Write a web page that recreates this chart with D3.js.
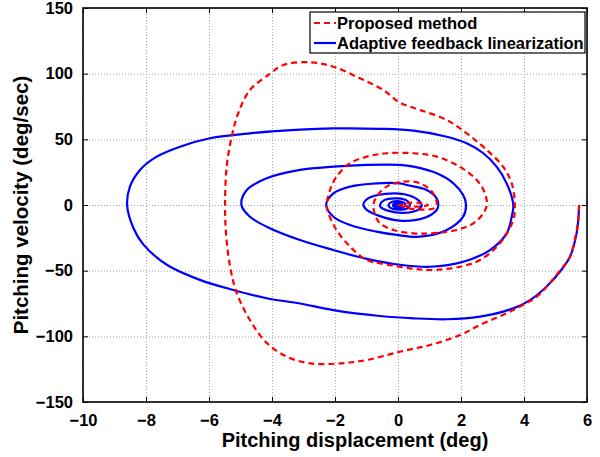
<!DOCTYPE html>
<html>
<head>
<meta charset="utf-8">
<script src="https://cdn.jsdelivr.net/npm/d3@7"></script>
<style>
  body { margin: 0; background: #fff; }
  text { font-family: "Liberation Sans", Arial, Helvetica, sans-serif; font-weight: bold; }
</style>
</head>
<body>
<div id="container"></div>
<script>
// phase-plane trajectories, [displacement (deg), velocity (deg/sec)]
var proposed = [
  [5.75,0],[5.72,-12],[5.65,-22],[5.46,-39.4],[5.14,-50],[4.8,-60],[4.4,-69.8],[3.66,-80],
  [2.6,-91.4],[1.97,-99],[1.02,-106.6],[0.06,-111.7],[-0.99,-118],[-1.84,-120.6],[-2.79,-120.6],
  [-3.53,-115.5],[-4.17,-105],[-4.7,-87.6],[-5.12,-67],[-5.33,-47],[-5.46,-21.6],[-5.49,0],
  [-5.44,29],[-5.28,52],[-5.07,70],[-4.7,87.6],[-4.06,100],[-3.64,106.6],[-2.79,108.7],
  [-2.05,105.3],[-1.21,96.5],[-0.47,87.6],[0.06,78],[0.7,72.4],[1.55,64.7],[2.18,54.6],
  [2.82,41.9],[3.34,29],[3.61,16.5],[3.71,0],
  [3.66,-11.4],[3.24,-29],[2.6,-41.9],[1.97,-47],[1.02,-49.5],[0.38,-48.2],[-0.57,-44.4],
  [-0.99,-41.9],[-1.52,-31.8],[-1.95,-19],[-2.21,-6.3],[-2.26,0],[-2.16,11.4],[-1.95,21.6],
  [-1.52,31.8],[-0.99,36.8],[-0.36,39.4],[0.49,39.4],[1.23,36.8],[1.97,29],[2.5,19],[2.76,8.9],[2.82,0],
  [2.71,-6.3],[2.39,-14],[1.86,-19],[1.02,-21.6],[0.49,-21.6],[-0.15,-19],[-0.57,-14],[-0.72,-8],
  [-0.78,0],[-0.68,6.3],[-0.36,14],[0.17,17.8],[0.7,16.5],[1.12,8.9],[1.23,0],
  [1.15,-2.5],[0.8,-3.5],[0.45,-3],[0.2,-1.8],[0.1,0],[0.3,1.5],[0.7,1.5],[0.95,0],
  [0.7,-1.2],[0.35,-1],[0.1,-0.3],[0,0]
];

var adaptive = [
  [5.75,0],[5.72,-12],[5.67,-21.6],[5.46,-39.4],[5.14,-50.8],[4.72,-62],[4.19,-72.4],[3.66,-78.7],
  [2.6,-85],[1.55,-87],[0.49,-86.3],[-0.57,-84.5],[-2.05,-80],[-3.11,-75],[-4.17,-71],[-5.23,-64.7],
  [-6.29,-57],[-7.34,-45.5],[-8.08,-30.2],[-8.4,-17.5],[-8.6,0],
  [-8.51,13.9],[-8.19,26.7],[-7.66,36.8],[-6.92,44.4],[-5.97,50.8],[-4.7,54.6],[-3.11,57.4],
  [-2.05,58.3],[-0.57,58],[0.49,56.6],[1.55,52],[2.18,47],[2.71,39.4],[3.13,29.2],[3.45,16.5],[3.66,0],
  [3.6,-10],[3.45,-21.6],[2.92,-34.3],[2.07,-43.2],[1.02,-47],[0.06,-45.5],[-0.99,-41],[-2.05,-34.3],
  [-3.11,-26.7],[-4.17,-16.5],[-4.7,-8.9],[-4.97,0],
  [-4.8,11.4],[-4.17,20.3],[-3.11,26.7],[-2.05,29.2],[-0.99,30.5],[0.06,30.5],[0.49,29.2],
  [1.23,24.1],[1.76,16.5],[2.07,7.6],[2.16,0],
  [2.07,-8.9],[1.55,-19],[0.7,-24.1],[-0.04,-22.8],[-0.68,-20.3],[-1.52,-15.2],[-2.05,-8.9],[-2.28,0],
  [-2.05,8.9],[-1.52,14],[-0.68,16.5],[0.06,16.5],[0.28,15.2],[0.91,11.4],[1.23,5],[1.28,0],
  [1.23,-3.8],[0.8,-10.1],[0.06,-11.9],[-0.57,-8.5],[-1.0,-3.5],[-1.1,0],
  [-0.95,5],[-0.4,8.5],[0.2,8.2],[0.6,4.5],[0.75,0],
  [0.65,-3.5],[0.2,-6],[-0.3,-4.5],[-0.55,-1.5],[-0.57,0],
  [-0.45,3.5],[0,5],[0.3,3],[0.38,0],
  [0.3,-2.5],[0,-3.5],[-0.25,-2],[-0.3,0],[-0.2,2.2],[0.05,2.8],[0.2,1.5],[0.22,0],
  [0.15,-1.8],[-0.05,-2],[-0.15,-0.8],[-0.15,0.5],[0,1.5],[0.12,0.8],[0.12,0],
  [0.05,-1],[-0.05,-0.8],[-0.08,0.3],[0,0.8],[0.05,0]
];

var xTicks = [-10,-8,-6,-4,-2,0,2,4,6];
var yTicks = [-150,-100,-50,0,50,100,150];
var seriesNames = ["Proposed method","Adaptive feedback linearization"];

var svg = d3.select("div#container").append("svg").attr("width",600).attr("height",457),
    margin = {top: 8, left: 83, right: 13, bottom: 55},
    width = 600 - margin.left - margin.right,
    height = 457 - margin.top - margin.bottom;

var g = svg.append("g").attr("transform","translate("+ margin.left +","+ margin.top +")");

var xScale = d3.scaleLinear().domain([-10,6]).range([0,width]);
var yScale = d3.scaleLinear().domain([-150,150]).range([height,0]);

// dotted grid
g.append("g").attr("class","grid")
  .attr("transform","translate(0,"+ height +")")
  .call(d3.axisBottom(xScale).tickValues(xTicks).tickSize(-height).tickFormat(""));
g.append("g").attr("class","grid")
  .call(d3.axisLeft(yScale).tickValues(yTicks).tickSize(-width).tickFormat(""));
g.selectAll(".grid path").remove();
g.selectAll(".grid line").attr("stroke","#a8a8a8").attr("stroke-width",1).attr("stroke-dasharray","1,2");

// trajectories
var line = d3.line()
  .x(function(d) { return xScale(d[0]); })
  .y(function(d) { return yScale(d[1]); })
  .curve(d3.curveCatmullRom.alpha(0.5));

g.append("path").datum(adaptive)
  .attr("d", line).attr("fill","none").attr("stroke","#0000ff").attr("stroke-width",2.2);
g.append("path").datum(proposed)
  .attr("d", line).attr("fill","none").attr("stroke","#ff0000").attr("stroke-width",2.2)
  .attr("stroke-dasharray","6,4");

// axes with inward ticks on all four sides
var xAxis = d3.axisBottom(xScale).tickValues(xTicks).tickSizeInner(-5).tickSizeOuter(0).tickPadding(12)
  .tickFormat(d3.format("d"));
var yAxis = d3.axisLeft(yScale).tickValues(yTicks).tickSizeInner(-5).tickSizeOuter(0).tickPadding(10)
  .tickFormat(d3.format("d"));

g.append("g").attr("class","axis").attr("transform","translate(0,"+ height +")").call(xAxis);
g.append("g").attr("class","axis").call(yAxis);
g.append("g").attr("class","axis").call(d3.axisTop(xScale).tickValues(xTicks).tickSizeInner(-5).tickSizeOuter(0).tickFormat(""));
g.append("g").attr("class","axis").attr("transform","translate("+ width +",0)")
  .call(d3.axisRight(yScale).tickValues(yTicks).tickSizeInner(-5).tickSizeOuter(0).tickFormat(""));

g.selectAll(".axis path").remove();
g.selectAll(".axis line").attr("stroke","#000").attr("stroke-width",1);
g.selectAll(".axis text").attr("fill","#000").style("font-size","16.5px")
  .style("font-family","'Liberation Sans', Arial, sans-serif").style("font-weight","bold");

g.append("rect").attr("width",width).attr("height",height)
  .attr("fill","none").attr("stroke","#000").attr("stroke-width",1.6);

// axis labels
svg.append("text").attr("x",355).attr("y",447).attr("text-anchor","middle")
  .style("font-size","20px").text("Pitching displacement (deg)");
svg.append("text").attr("transform","translate(28,"+ (margin.top + height/2) +") rotate(-90)")
  .attr("text-anchor","middle").style("font-size","20.5px").text("Pitching velocity (deg/sec)");

// legend
var legend = svg.append("g").attr("transform","translate(310,12)");
legend.append("rect").attr("width",275).attr("height",41)
  .attr("fill","#fff").attr("stroke","#000").attr("stroke-width",1.2);
var styles = [{c:"#ff0000", dash:"6,4"}, {c:"#0000ff", dash:null}];
seriesNames.forEach(function(name, i) {
  var yy = 11 + i * 20;
  legend.append("line").attr("x1",4).attr("x2",26).attr("y1",yy).attr("y2",yy)
    .attr("stroke",styles[i].c).attr("stroke-width",2.2).attr("stroke-dasharray",styles[i].dash);
  legend.append("text").attr("x",27).attr("y",yy).attr("dy","0.36em")
    .style("font-size","16.5px").text(name);
});
</script>
</body>
</html>
